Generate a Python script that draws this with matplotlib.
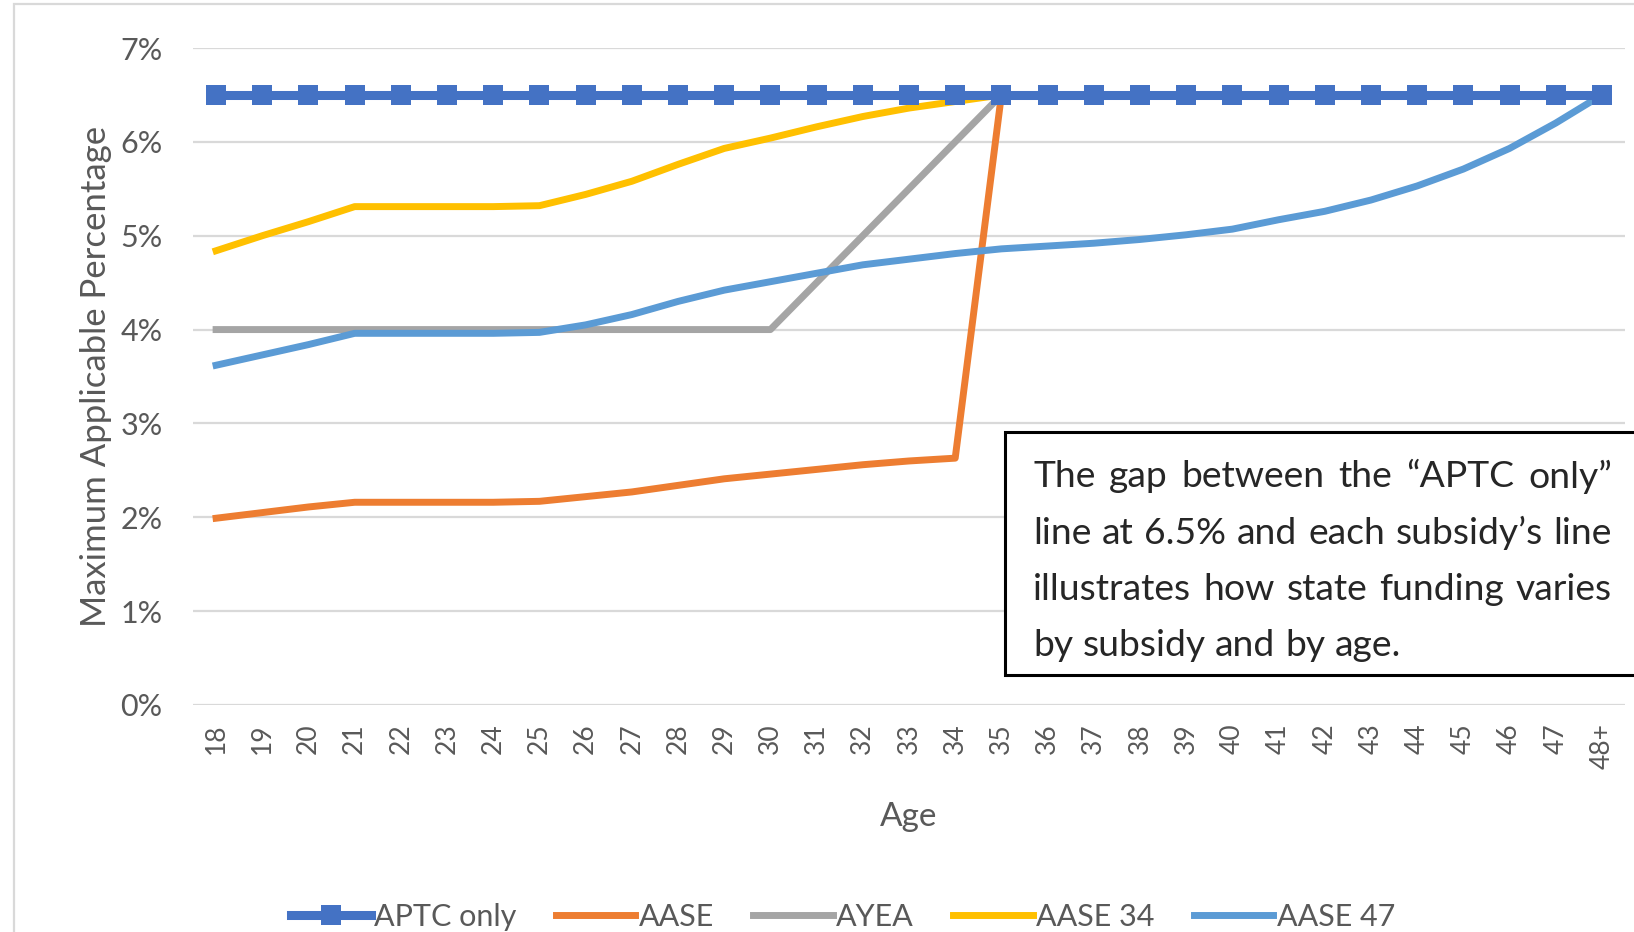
import matplotlib
matplotlib.use("Agg")
import matplotlib.pyplot as plt
from matplotlib.patches import Rectangle
from matplotlib.ticker import FuncFormatter

# ---- data -------------------------------------------------------------
ages = [str(a) for a in range(18, 48)] + ["48+"]

aptc_only = [6.5] * 31
aase = [1.99, 2.05, 2.11, 2.16, 2.16, 2.16, 2.16, 2.17, 2.22, 2.27, 2.34,
        2.41, 2.46, 2.51, 2.56, 2.60, 2.63] + [6.5] * 14
ayea = [4.0] * 13 + [4.5, 5.0, 5.5, 6.0, 6.5] + [6.5] * 13
aase_34 = [4.84, 5.00, 5.15, 5.31, 5.31, 5.31, 5.31, 5.32, 5.44, 5.58, 5.76,
           5.93, 6.04, 6.16, 6.27, 6.36, 6.43] + [6.5] * 14
aase_47 = [3.62, 3.73, 3.84, 3.96, 3.96, 3.96, 3.96, 3.97, 4.05, 4.16, 4.30,
           4.42, 4.51, 4.60, 4.69, 4.75, 4.81, 4.86, 4.89, 4.92, 4.96, 5.01,
           5.07, 5.17, 5.26, 5.38, 5.53, 5.71, 5.93, 6.20, 6.50]

note_lines = [
    "The gap between the \u201cAPTC only\u201d",
    "line at 6.5% and each subsidy\u2019s line",
    "illustrates how state funding varies",
    "by subsidy and by age.",
]

# ---- styling ----------------------------------------------------------
FONT = "Lato"
plt.rcParams["font.family"] = [FONT, "DejaVu Sans"]
GRAY_TXT = "#595959"
W, H = 1634, 932

fig = plt.figure(figsize=(W / 100, H / 100), dpi=100)
fig.patch.set_facecolor("white")

# outer chart-area frame
fig.add_artist(Rectangle((14 / W, -0.1), 1.2, 1.1 - 4 / H,
                         transform=fig.transFigure, fill=False,
                         edgecolor="#D9D9D9", linewidth=1.6))

left, right, top, bottom = 193, 1625, 48, 705
ax = fig.add_axes([left / W, 1 - bottom / H, (right - left) / W, (bottom - top) / H])

x = list(range(len(ages)))
lw = 5.0
ax.plot(x, aase, color="#ED7D31", lw=lw, solid_joinstyle="round",
        label="AASE", zorder=3)
ax.plot(x, ayea, color="#A5A5A5", lw=lw, solid_joinstyle="round",
        label="AYEA", zorder=3)
ax.plot(x, aase_34, color="#FFC000", lw=lw, solid_joinstyle="round",
        label="AASE 34", zorder=3)
ax.plot(x, aase_47, color="#5B9BD5", lw=lw, solid_joinstyle="round",
        label="AASE 47", zorder=3)
ax.plot(x, aptc_only, color="#4472C4", lw=6.5, marker="s", markersize=14.5,
        markeredgewidth=0, label="APTC only", zorder=5)

ax.set_xlim(-0.5, len(ages) - 0.5)
ax.set_ylim(0, 7)
ax.set_yticks(range(0, 8))
ax.yaxis.set_major_formatter(FuncFormatter(lambda v, p: f"{v:.0f}%"))
ax.set_xticks(x)
ax.set_xticklabels(ages, rotation=90)
ax.grid(axis="y", color="#D9D9D9", lw=1.6, zorder=0)
ax.set_axisbelow(True)
for s in ax.spines.values():
    s.set_visible(False)
ax.tick_params(axis="both", length=0, colors=GRAY_TXT)
ax.tick_params(axis="y", labelsize=22, pad=22)
ax.tick_params(axis="x", labelsize=19, pad=13)

ax.set_ylabel("Maximum Applicable Percentage", color=GRAY_TXT, fontsize=25,
              labelpad=6)
ax.set_xlabel("Age", color=GRAY_TXT, fontsize=24, labelpad=24)

# legend in series order
handles, labels = ax.get_legend_handles_labels()
order = ["APTC only", "AASE", "AYEA", "AASE 34", "AASE 47"]
hmap = dict(zip(labels, handles))
fig.legend([hmap[k] for k in order], order, loc="center",
           bbox_to_anchor=(0.516, 1 - 917 / H), ncol=5, frameon=False,
           fontsize=22, handlelength=2.6, handletextpad=0.1,
           columnspacing=1.3, labelcolor=GRAY_TXT)

# annotation box with justified text
box_l, box_t, box_b = 1005, 432, 675
fig.add_artist(Rectangle((box_l / W, 1 - box_b / H), 1.0, (box_b - box_t) / H,
                         transform=fig.transFigure, facecolor="white",
                         edgecolor="black", linewidth=2.2, zorder=10))

fig.canvas.draw()
renderer = fig.canvas.get_renderer()


def text_width(s, fs):
    t = fig.text(0, 0, s, fontsize=fs)
    w = t.get_window_extent(renderer).width
    t.remove()
    return w


txt_l, txt_r = 1033, 1612
line_y = [477, 533, 590, 646]
fs_note = 22 * 367 / text_width(note_lines[-1], 22)
space_w = text_width("a a", fs_note) - text_width("aa", fs_note)
for i, (line, ly) in enumerate(zip(note_lines, line_y)):
    words = line.split(" ")
    arts = [fig.text(0, 1 - ly / H, w, fontsize=fs_note, color="#262626",
                     va="center", ha="left", zorder=11) for w in words]
    widths = [a.get_window_extent(renderer).width for a in arts]
    if i < len(note_lines) - 1 and len(words) > 1:
        gap = max((txt_r - txt_l - sum(widths)) / (len(words) - 1), space_w * 0.6)
    else:
        gap = space_w
    xpos = txt_l
    for a, wdt in zip(arts, widths):
        a.set_x(xpos / W)
        xpos += wdt + gap

fig.savefig("out.png", dpi=100, facecolor="white")
